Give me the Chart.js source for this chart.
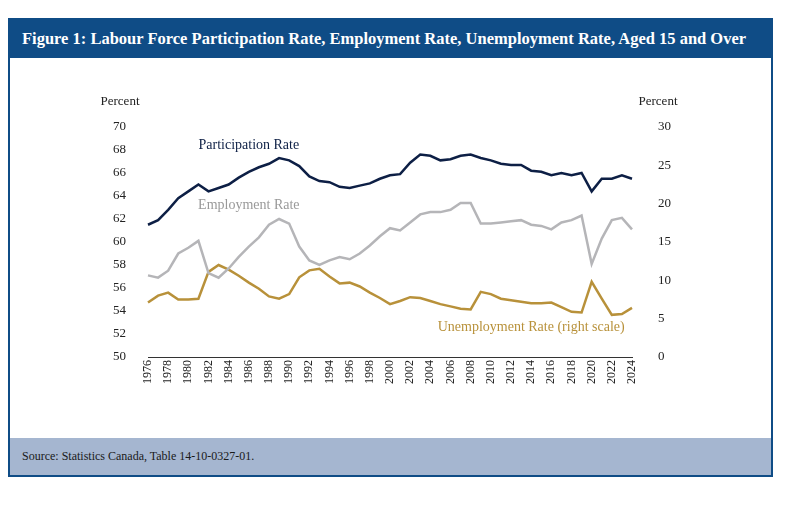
<!DOCTYPE html>
<html><head><meta charset="utf-8">
<script src="https://cdn.jsdelivr.net/npm/chart.js@4"></script>
<style>
body{margin:0;background:#fff;font-family:"Liberation Serif",serif;}
#frame{position:absolute;left:8px;top:18px;width:761px;height:455px;border:2px solid #0f4c86;}
#head{position:absolute;left:0;top:0;right:0;height:38px;background:#0f4c86;color:#fff;font-weight:bold;font-size:16.5px;line-height:38px;padding-left:12px;white-space:nowrap;overflow:hidden;}
#foot{position:absolute;left:0;bottom:0;right:0;height:37px;background:#a5b6d0;color:#1a1a1a;font-size:12px;line-height:37px;padding-left:12px;}
#wrap{position:absolute;left:100px;top:90px;width:600px;height:305px;}
</style></head><body>
<div id="frame">
  <div id="head">Figure 1: Labour Force Participation Rate, Employment Rate, Unemployment Rate, Aged 15 and Over</div>
  <div id="foot">Source: Statistics Canada, Table 14-10-0327-01.</div>
</div>
<div id="wrap"><canvas id="c"></canvas></div>
<script>
const YEARS = [];
for (let y = 1976; y <= 2024; y++) YEARS.push(String(y));

const PARTICIPATION = [61.5,61.9,62.8,63.8,64.4,65.0,64.4,64.7,65.0,65.6,66.1,66.5,66.8,67.3,67.1,66.6,65.7,65.3,65.2,64.8,64.7,64.9,65.1,65.5,65.8,65.9,66.9,67.6,67.5,67.1,67.2,67.5,67.6,67.3,67.1,66.8,66.7,66.7,66.2,66.1,65.8,66.0,65.8,66.0,64.4,65.5,65.5,65.8,65.5];
const EMPLOYMENT = [57.1,56.9,57.5,59.0,59.5,60.1,57.3,56.9,57.7,58.7,59.6,60.4,61.5,62.0,61.6,59.6,58.4,58.0,58.4,58.7,58.5,59.0,59.7,60.5,61.2,61.0,61.7,62.4,62.6,62.6,62.8,63.4,63.4,61.6,61.6,61.7,61.8,61.9,61.5,61.4,61.1,61.7,61.9,62.3,58.1,60.3,61.9,62.1,61.1];
const UNEMPLOYMENT = [7.1,8.0,8.4,7.5,7.5,7.6,11.1,12.0,11.4,10.6,9.7,8.9,7.9,7.6,8.2,10.4,11.3,11.5,10.5,9.6,9.7,9.2,8.4,7.7,6.9,7.3,7.8,7.7,7.3,6.9,6.6,6.3,6.2,8.5,8.2,7.6,7.4,7.2,7.0,7.0,7.1,6.5,5.9,5.8,9.8,7.6,5.5,5.6,6.4];

const FONT = '"Liberation Serif", serif';
const NAVY = '#0d1f45', GREY = '#b5b5b8', GOLD = '#b8913a';

const labelPlugin = {
  id: 'labels',
  afterDraw(chart) {
    const ctx = chart.ctx, a = chart.chartArea;
    const x = chart.scales.x, yl = chart.scales.y, yr = chart.scales.y2;
    ctx.save();
    ctx.font = '13px ' + FONT;
    ctx.fillStyle = '#222';
    ctx.textAlign = 'center';
    ctx.fillText('Percent', a.left - 28, a.top - 22);
    ctx.fillText('Percent', a.right + 26, a.top - 22);
    ctx.font = '14px ' + FONT;
    ctx.fillStyle = NAVY;
    ctx.fillText('Participation Rate', x.getPixelForValue(10), yl.getPixelForValue(68.1));
    ctx.fillStyle = '#999';
    ctx.fillText('Employment Rate', x.getPixelForValue(10), yl.getPixelForValue(62.9));
    ctx.fillStyle = GOLD;
    ctx.fillText('Unemployment Rate (right scale)', x.getPixelForValue(38), yr.getPixelForValue(3.4));
    ctx.restore();
  }
};

new Chart(document.getElementById('c'), {
  type: 'line',
  data: {
    labels: YEARS,
    datasets: [
      { data: PARTICIPATION, borderColor: NAVY, yAxisID: 'y' },
      { data: EMPLOYMENT, borderColor: GREY, yAxisID: 'y' },
      { data: UNEMPLOYMENT, borderColor: GOLD, yAxisID: 'y2' }
    ]
  },
  options: {
    responsive: true, maintainAspectRatio: false, animation: false,
    layout: { padding: { top: 37 } },
    elements: { point: { radius: 0 }, line: { borderWidth: 2.5, tension: 0 } },
    plugins: { legend: { display: false }, tooltip: { enabled: false } },
    scales: {
      x: {
        grid: { display: false, drawTicks: false }, border: { color: '#333' },
        ticks: { autoSkip: false, maxRotation: 90, minRotation: 90, color: '#222', font: { family: FONT, size: 12 },
          callback: (v, i) => i % 2 === 0 ? YEARS[i] : '' },
        afterFit: s => { s.height = 38; }
      },
      y: {
        min: 50, max: 70, grid: { display: false }, border: { display: false },
        ticks: { stepSize: 2, color: '#222', padding: 14, font: { family: FONT, size: 13 } },
        afterFit: s => { s.width = 48; }
      },
      y2: {
        position: 'right', min: 0, max: 30, grid: { display: false }, border: { display: false },
        ticks: { stepSize: 5, color: '#222', padding: 18, font: { family: FONT, size: 13 } },
        afterFit: s => { s.width = 68; }
      }
    }
  },
  plugins: [labelPlugin]
});
</script>
</body></html>
